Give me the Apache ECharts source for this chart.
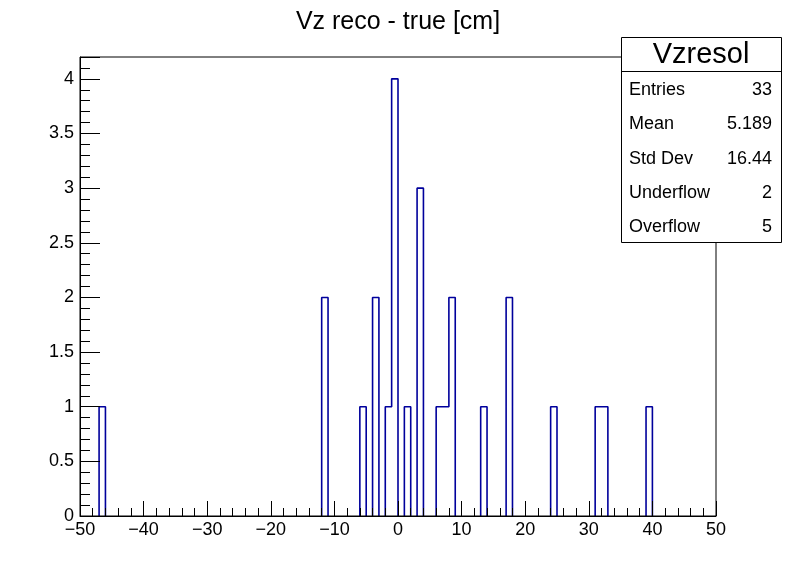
<!DOCTYPE html>
<html>
<head>
<meta charset="utf-8">
<script src="https://cdn.jsdelivr.net/npm/echarts@6/dist/echarts.min.js"></script>
<style>
html, body { margin: 0; padding: 0; background: #fff; }
#main { width: 796px; height: 572px; }
</style>
</head>
<body>
<div id="main"></div>
<script>
// histogram Vzresol: 100 bins of width 1 from -50 to 50, only filled bins listed
var binLow = [-47, -12, -6, -4, -2, -1, 1, 3, 6, 7, 8, 13, 17, 24, 31, 32, 39];
var binCount = [1, 2, 1, 2, 1, 4, 1, 3, 1, 1, 2, 1, 2, 1, 1, 1, 1];
var xTicks = [-50, -40, -30, -20, -10, 0, 10, 20, 30, 40, 50];
var yTicks = [0, 0.5, 1, 1.5, 2, 2.5, 3, 3.5, 4];
var statLabels = ['Entries', 'Mean', 'Std Dev', 'Underflow', 'Overflow'];
var statValues = ['33', '5.189', '16.44', '2', '5'];

var FONT = 'Liberation Sans';

// build the outline, one piece per run of filled bins
var counts = {};
for (var i = 0; i < binLow.length; i++) {
    counts[binLow[i]] = binCount[i];
}
var outline = [];
var inRun = false;
for (var b = -50; b < 50; b++) {
    var c = counts[b] || 0;
    if (c > 0) {
        if (!inRun) {
            outline.push([b, 0]);
            inRun = true;
        }
        outline.push([b, c]);
        outline.push([b + 1, c]);
    } else if (inRun) {
        outline.push([b, 0]);
        outline.push(null);
        inRun = false;
    }
}
if (inRun) outline.push([50, 0]);

var myChart = echarts.init(document.getElementById('main'));

var statGraphics = [{
    type: 'rect',
    left: 621, top: 37,
    shape: { width: 160, height: 205 },
    style: { fill: '#fff', stroke: '#000', lineWidth: 1 },
    z: 100
}, {
    type: 'line',
    shape: { x1: 621, y1: 71.5, x2: 781, y2: 71.5 },
    style: { stroke: '#000', lineWidth: 1 },
    z: 101
}, {
    type: 'text',
    x: 701, y: 55,
    style: { text: 'Vzresol', font: '29px ' + FONT, fill: '#000', textAlign: 'center', textVerticalAlign: 'middle' },
    z: 101
}];
for (var k = 0; k < statLabels.length; k++) {
    statGraphics.push({
        type: 'text',
        x: 629, y: 90 + k * 34.3,
        style: { text: statLabels[k], font: '18px ' + FONT, fill: '#000', textAlign: 'left', textVerticalAlign: 'middle' },
        z: 101
    });
    statGraphics.push({
        type: 'text',
        x: 772, y: 90 + k * 34.3,
        style: { text: statValues[k], font: '18px ' + FONT, fill: '#000', textAlign: 'right', textVerticalAlign: 'middle' },
        z: 101
    });
}

var option = {
    animation: false,
    backgroundColor: '#fff',
    title: {
        text: 'Vz reco - true [cm]',
        left: 'center',
        top: 5,
        textStyle: { fontFamily: FONT, fontSize: 25, fontWeight: 'normal', color: '#000' }
    },
    grid: {
        left: 80, right: 80, top: 57, bottom: 56,
        show: true,
        borderColor: '#000',
        borderWidth: 1,
        backgroundColor: 'transparent',
        z: 5
    },
    xAxis: {
        type: 'value',
        min: -50, max: 50, interval: 10,
        z: 5,
        axisLine: { onZero: false, lineStyle: { color: '#000', width: 1 } },
        axisTick: { inside: true, length: 15, lineStyle: { color: '#000' } },
        minorTick: { show: true, splitNumber: 5, length: 8, lineStyle: { color: '#000' } },
        splitLine: { show: false },
        axisLabel: {
            margin: 5,
            fontFamily: FONT, fontSize: 18, color: '#000',
            formatter: function(v) {
                if (xTicks.indexOf(v) < 0) return '';
                return String(v).replace('-', '\u2212');
            }
        }
    },
    yAxis: [{
        type: 'value',
        min: 0, max: 4.2, interval: 0.5,
        z: 5,
        axisLine: { show: true, onZero: false, lineStyle: { color: '#000', width: 1 } },
        axisTick: { inside: true, length: 20, lineStyle: { color: '#000' } },
        splitLine: { show: false },
        axisLabel: {
            margin: 6,
            fontFamily: FONT, fontSize: 18, color: '#000',
            formatter: function(v) {
                return yTicks.indexOf(v) < 0 ? '' : String(v);
            }
        }
    }, {
        // minor ticks every 0.1
        type: 'value',
        position: 'left',
        min: 0, max: 4.2, interval: 0.1,
        z: 5,
        axisLine: { show: false, onZero: false },
        axisTick: { show: true, inside: true, length: 10, lineStyle: { color: '#000' } },
        splitLine: { show: false },
        axisLabel: { show: false }
    }],
    graphic: statGraphics,
    series: [{
        name: 'Vzresol',
        type: 'line',
        yAxisIndex: 0,
        data: outline,
        showSymbol: false,
        connectNulls: false,
        clip: false,
        lineStyle: { color: '#00009c', width: 1.6 },
        z: 2
    }]
};
myChart.setOption(option);
</script>
</body>
</html>
